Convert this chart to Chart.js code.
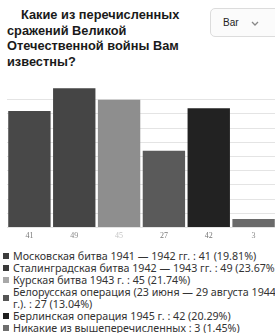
<!DOCTYPE html>
<html>
<head>
<meta charset="utf-8">
<script src="https://cdn.jsdelivr.net/npm/chart.js@4/dist/chart.umd.min.js"></script>
<style>
  html, body { margin: 0; padding: 0; background: #fff; }
  body { width: 275px; height: 333px; overflow: hidden; position: relative; font-family: "Liberation Sans", Arial, sans-serif; }
  #title { position: absolute; left: 7px; top: 7px; width: 192px; font-weight: bold; font-size: 12.8px; line-height: 15.5px; color: #1a1a1a; text-indent: 14px; }
  #sel { position: absolute; left: 210px; top: 8px; width: 70px; height: 29px; border: 1px solid #dcdcdc; border-radius: 5px; background: #fbfbfb; box-sizing: border-box; }
  #sel span { position: absolute; left: 12px; top: 8px; font-size: 10px; color: #222; }
  #sel svg { position: absolute; left: 40px; top: 12px; }
  #chartWrap { position: absolute; left: 0; top: 80px; width: 285px; height: 165px; }
  #legend { position: absolute; left: 3px; top: 250px; width: 284px; font-family: "Noto Sans", "Open Sans", sans-serif; font-size: 10.7px; line-height: 12px; color: #333; }
  .li { display: flex; align-items: center; }
  .sw { flex: 0 0 6px; width: 6px; height: 6px; margin-right: 4px; }
</style>
</head>
<body>
<div id="title">Какие из перечисленных сражений Великой Отечественной войны Вам известны?</div>
<div id="sel"><span>Bar</span><svg width="8" height="6" viewBox="0 0 8 6"><path d="M1 1 L4 4 L7 1" stroke="#888" stroke-width="1.3" fill="none"/></svg></div>
<div id="chartWrap"><canvas id="c" width="285" height="165"></canvas></div>
<div id="legend"></div>
<script>
const categories = [
  "Московская битва 1941 — 1942 гг.",
  "Сталинградская битва 1942 — 1943 гг.",
  "Курская битва 1943 г.",
  "Белорусская операция (23 июня — 29 августа 1944 г.).",
  "Берлинская операция 1945 г.",
  "Никакие из вышеперечисленных"
];
const counts = [41, 49, 45, 27, 42, 3];
const percents = ["19.81%", "23.67%", "21.74%", "13.04%", "20.29%", "1.45%"];
const tickLabels = ["41", "49", "45", "27", "42", "3"];
const barColors = ["#484848", "#454545", "#8e8e8e", "#5a5a5a", "#222222", "#6a6a6a"];
const tickColors = ["#777777", "#888888", "#c4c4c4", "#777777", "#777777", "#8a8a8a"];
const legendColors = ["#3c3c3c", "#3a3a3a", "#a8a8a8", "#555555", "#1e1e1e", "#6e6e6e"];

const leg = document.getElementById('legend');
categories.forEach((c, i) => {
  const d = document.createElement('div');
  d.className = 'li';
  const s = document.createElement('span');
  s.className = 'sw';
  s.style.background = legendColors[i];
  const t = document.createElement('span');
  t.textContent = c + " : " + counts[i] + " (" + percents[i] + ")";
  d.appendChild(s); d.appendChild(t);
  leg.appendChild(d);
});

new Chart(document.getElementById('c'), {
  type: 'bar',
  data: {
    labels: tickLabels,
    datasets: [{
      data: counts,
      backgroundColor: barColors,
      borderWidth: 0,
      barPercentage: 1,
      categoryPercentage: 0.945
    }]
  },
  options: {
    responsive: false,
    devicePixelRatio: 1,
    animation: false,
    layout: { padding: { left: 7, right: 9, top: 5.5, bottom: 0 } },
    plugins: { legend: { display: false }, tooltip: { enabled: false } },
    scales: {
      x: {
        grid: { display: false, drawTicks: false, tickLength: 0 },
        border: { display: false },
        ticks: {
          padding: 4,
          color: (ctx) => tickColors[ctx.index],
          font: { family: "Liberation Serif", size: 8 }
        }
      },
      y: {
        min: 0, max: 50,
        ticks: { display: false, stepSize: 5 },
        border: { display: false },
        grid: {
          drawTicks: false,
          tickLength: 0,
          color: (ctx) => (ctx.tick && ctx.tick.value === 50) ? 'rgba(0,0,0,0)' : '#e4e4e4'
        }
      }
    }
  }
});
</script>
</body>
</html>
